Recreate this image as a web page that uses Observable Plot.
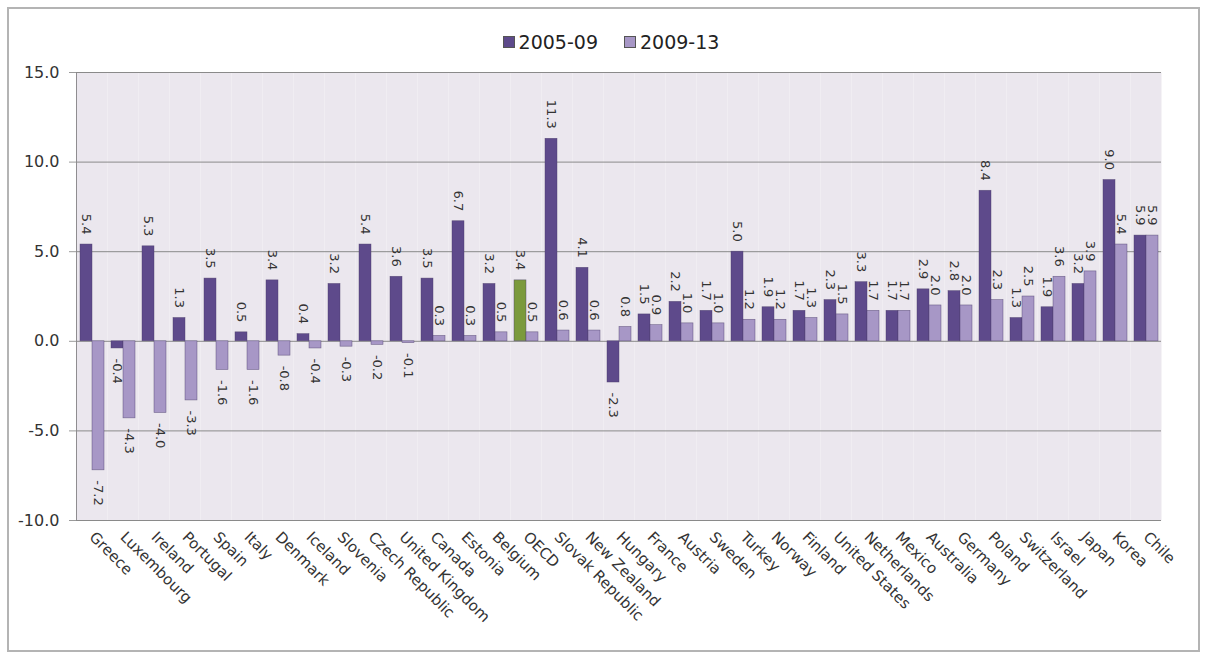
<!DOCTYPE html>
<html>
<head>
<meta charset="utf-8">
<script src="https://cdn.jsdelivr.net/npm/d3@7"></script>
<script src="https://cdn.jsdelivr.net/npm/@observablehq/plot@0.6"></script>
<style>
  body { margin: 0; background: #fff; font-family: "DejaVu Sans", sans-serif; }
  #border { position: absolute; left: 7px; top: 7px; width: 1189px; height: 641px; border: 2px solid #b4b4b4; }
  #legend { position: absolute; top: 31px; left: 0; width: 1222px; display: flex; justify-content: center; gap: 26px; font-size: 19px; color: #222; }
  #legend .item { display: flex; align-items: center; gap: 4px; }
  #legend .sw { width: 10px; height: 10px; border: 1px solid #555; display: inline-block; }
  #chart { position: absolute; left: 0; top: 60px; }
</style>
</head>
<body>
<div id="border"></div>
<div id="legend"></div>
<div id="chart"></div>
<script>
const countries = ["Greece","Luxembourg","Ireland","Portugal","Spain","Italy","Denmark","Iceland","Slovenia","Czech Republic","United Kingdom","Canada","Estonia","Belgium","OECD","Slovak Republic","New Zealand","Hungary","France","Austria","Sweden","Turkey","Norway","Finland","United States","Netherlands","Mexico","Australia","Germany","Poland","Switzerland","Israel","Japan","Korea","Chile"];
const values0509 = [5.4,-0.4,5.3,1.3,3.5,0.5,3.4,0.4,3.2,5.4,3.6,3.5,6.7,3.2,3.4,11.3,4.1,-2.3,1.5,2.2,1.7,5.0,1.9,1.7,2.3,3.3,1.7,2.9,2.8,8.4,1.3,1.9,3.2,9.0,5.9];
const values0913 = [-7.2,-4.3,-4.0,-3.3,-1.6,-1.6,-0.8,-0.4,-0.3,-0.2,-0.1,0.3,0.3,0.5,0.5,0.6,0.6,0.8,0.9,1.0,1.0,1.2,1.2,1.3,1.5,1.7,1.7,2.0,2.0,2.3,2.5,3.6,3.9,5.4,5.9];
const seriesNames = ["2005-09","2009-13"];
const yTicks = [-10,-5,0,5,10,15];
const highlight = "OECD";

const colorDomain = ["2005-09","2009-13","OECD 2005-09","OECD 2009-13"];
const colorRange = ["#5e4a8b","#a797c6","#7b9a3c","#a797c6"];

const rows = [];
countries.forEach((c, i) => {
  rows.push({country: c, series: seriesNames[0], value: values0509[i]});
  rows.push({country: c, series: seriesNames[1], value: values0913[i]});
});
const key = d => d.country === highlight ? `${highlight} ${d.series}` : d.series;

// legend
const legend = document.getElementById("legend");
seriesNames.forEach((s, i) => {
  const item = document.createElement("div");
  item.className = "item";
  item.innerHTML = `<span class="sw" style="background:${colorRange[i]}"></span><span>${s}</span>`;
  legend.appendChild(item);
});

const chart = Plot.plot({
  width: 1200,
  height: 598,
  marginTop: 12,
  marginBottom: 138,
  marginLeft: 75,
  marginRight: 38,
  style: {fontFamily: "DejaVu Sans, sans-serif", fontSize: "15px", color: "#333", background: "transparent"},
  fx: {domain: countries, padding: 0, label: null, tickRotate: 45, tickSize: 0, tickPadding: 14},
  x: {domain: seriesNames, paddingInner: 0, paddingOuter: 0.2, axis: null},
  y: {domain: [-10, 15], ticks: yTicks, tickFormat: d => d.toFixed(1), label: null, tickSize: 7, tickPadding: 10, line: true},
  color: {domain: colorDomain, range: colorRange},
  marks: [
    Plot.frame({fill: "#ebe7ee", stroke: "none"}),
    Plot.ruleY(yTicks, {stroke: "#8a8a8a", strokeWidth: 1}),
    Plot.barY(rows, {fx: "country", x: "series", y: "value", fill: key, stroke: "#4b3d6b", strokeWidth: 0.6, strokeOpacity: 0.7}),
    Plot.text(rows.filter(d => d.value >= 0), {fx: "country", x: "series", y: "value", text: d => d.value.toFixed(1), rotate: 90, textAnchor: "end", dy: -10, fontSize: 13, fill: "#333"}),
    Plot.text(rows.filter(d => d.value < 0), {fx: "country", x: "series", y: "value", text: d => d.value.toFixed(1), rotate: 90, textAnchor: "start", dy: 10, fontSize: 13, fill: "#333"})
  ]
});
// soften the y axis styling (grey axis line and ticks, slightly larger tick labels)
d3.select(chart).selectAll('[aria-label^="y-axis"]').each(function() {
  const g = d3.select(this);
  const label = g.attr("aria-label");
  if (label.includes("label")) {
    g.attr("font-size", 16).style("font-size", "16px");
  } else {
    g.attr("stroke", "#9a9a9a");
    g.selectAll("path, line").attr("stroke", "#9a9a9a");
    if (!label.includes("tick")) g.attr("stroke-width", 2);
  }
});
document.getElementById("chart").appendChild(chart);
</script>
</body>
</html>
